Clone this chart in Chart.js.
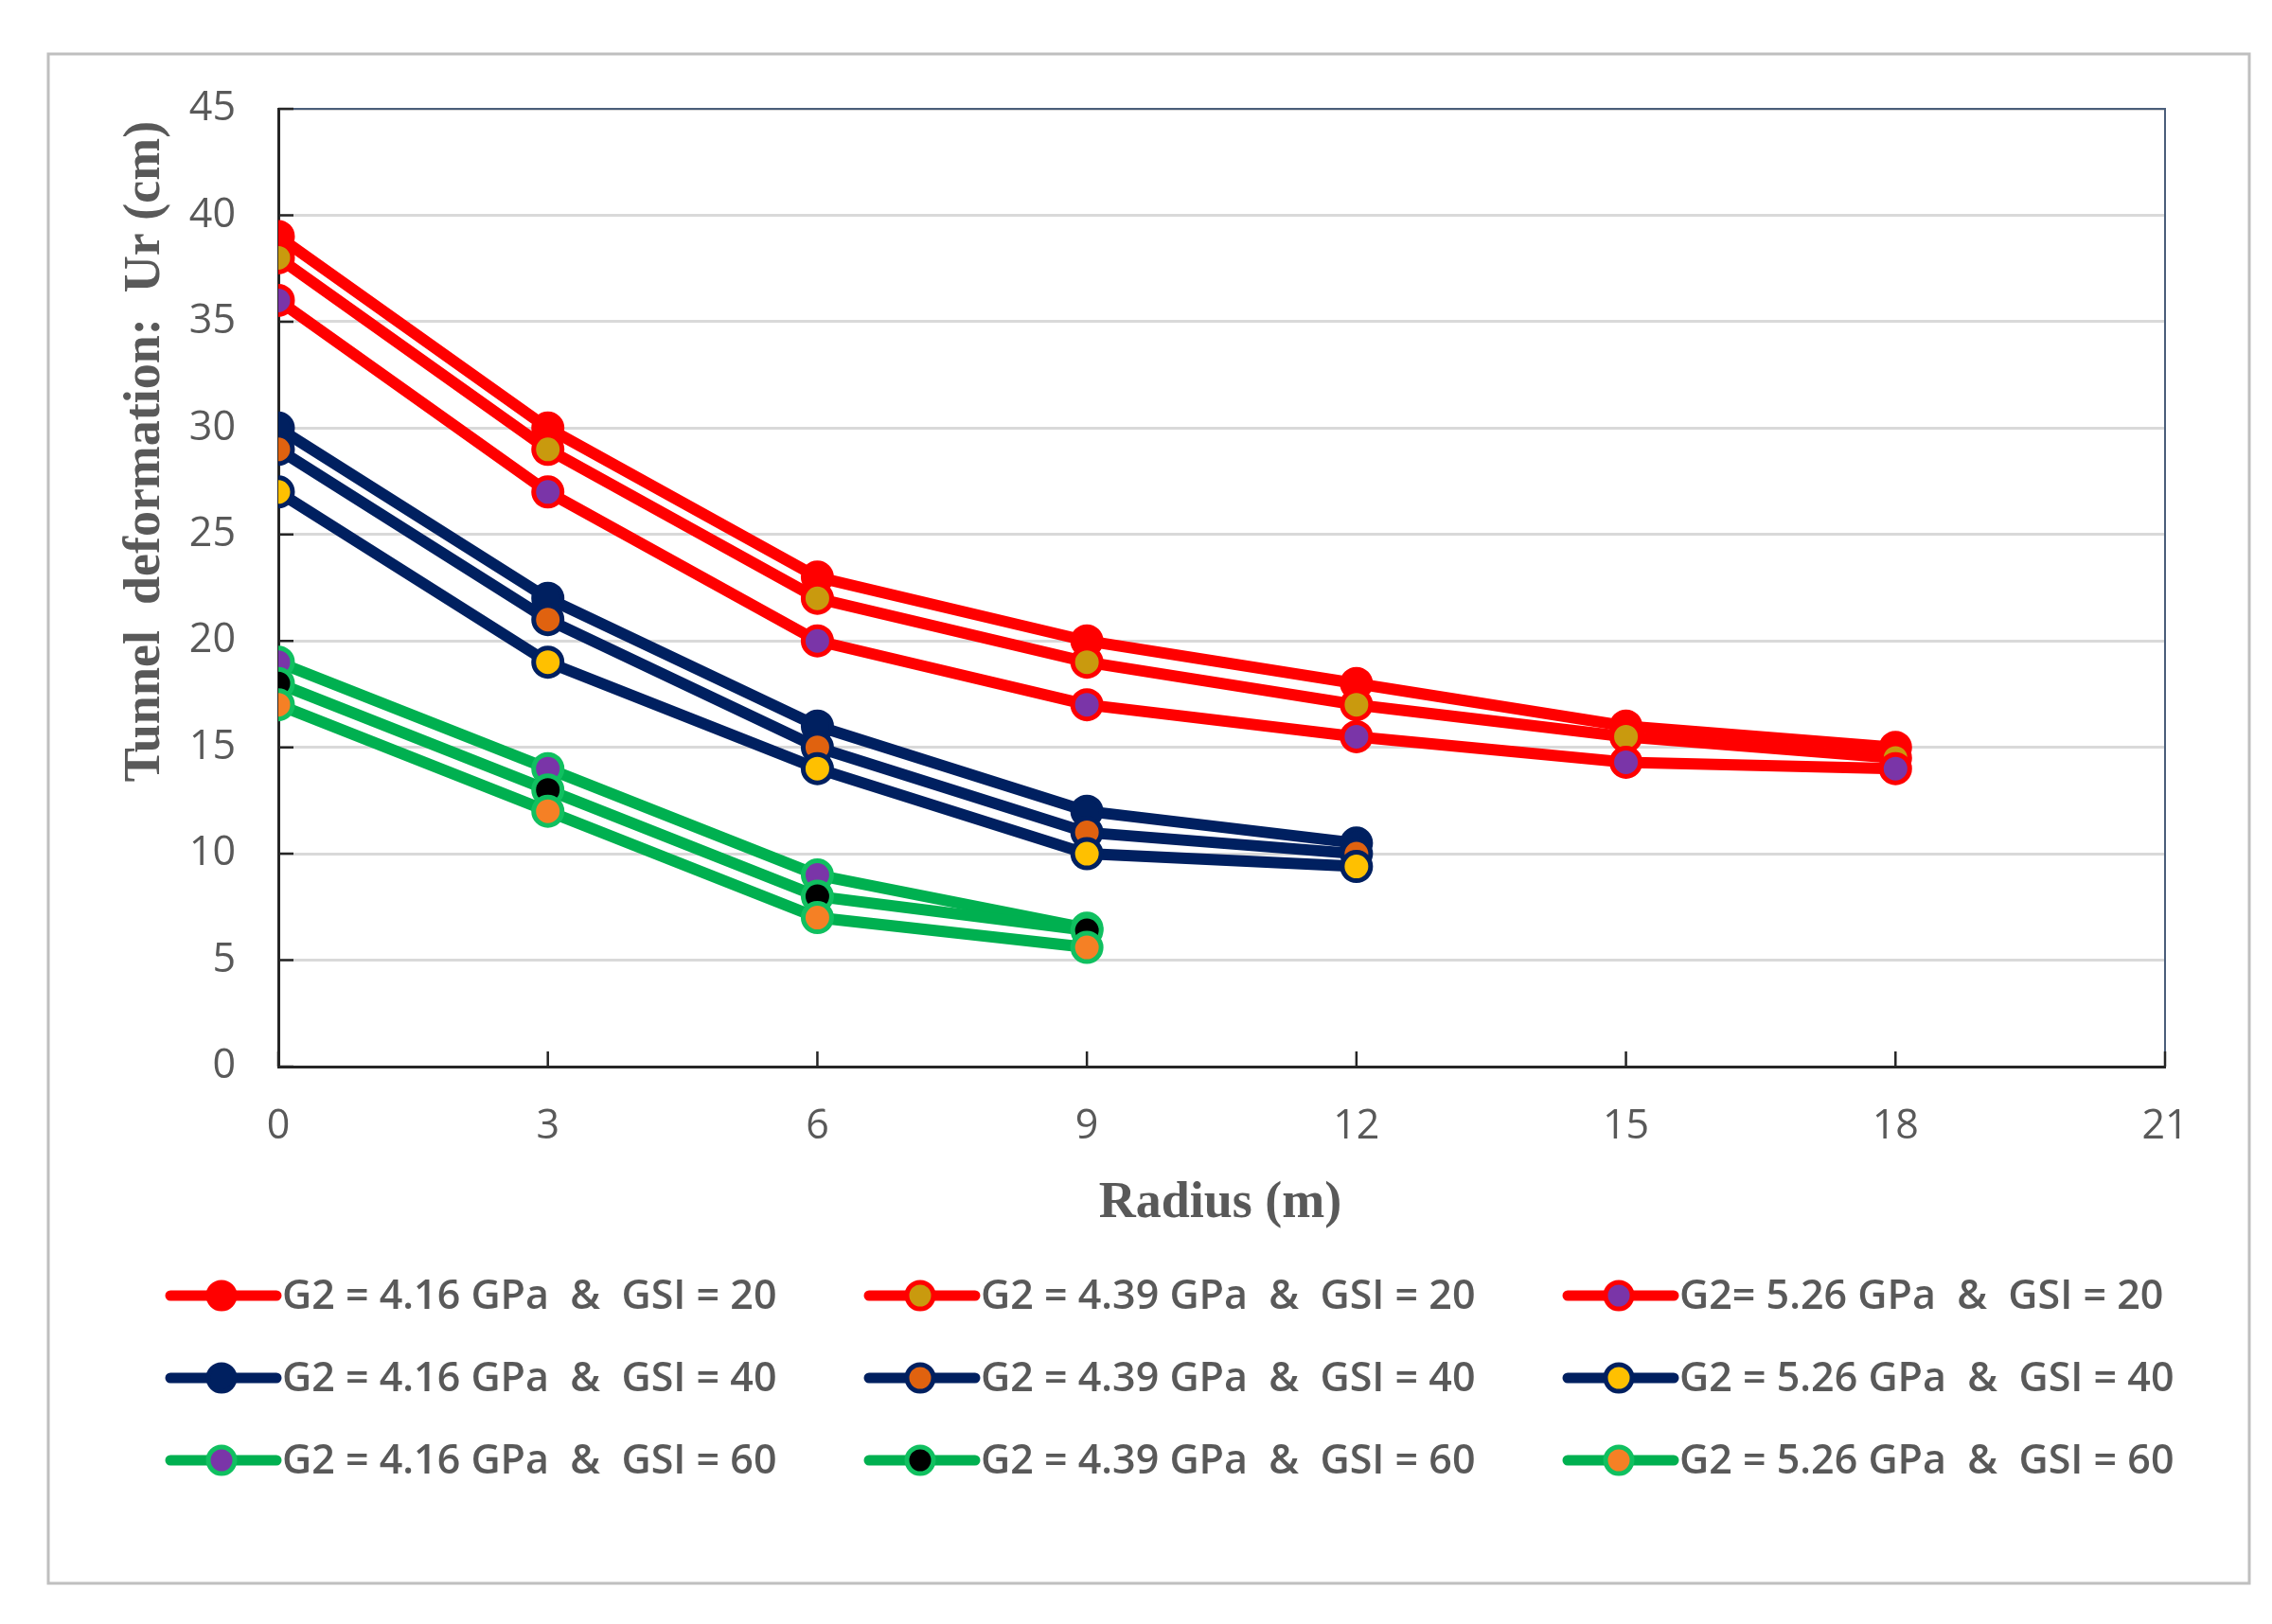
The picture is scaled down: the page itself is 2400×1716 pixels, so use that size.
<!DOCTYPE html>
<html>
<head>
<meta charset="utf-8">
<script src="https://cdn.jsdelivr.net/npm/chart.js@4.4.1/dist/chart.umd.min.js"></script>
<style>
  body { margin: 0; background: #fff; }
  #mycanvas { display: block; }
</style>
</head>
<body>
<canvas id="mycanvas" width="2400" height="1716"></canvas>
<script>
// radius (m) along the x axis
var radius = [0, 3, 6, 9, 12, 15, 18];
var xTicks = [0, 3, 6, 9, 12, 15, 18, 21];
var yTicks = [0, 5, 10, 15, 20, 25, 30, 35, 40, 45];

// tunnel deformation Ur (cm)
var gsi20_416 = [39, 30, 23, 20, 18, 16, 15];
var gsi20_439 = [38, 29, 22, 19, 17, 15.5, 14.5];
var gsi20_526 = [36, 27, 20, 17, 15.5, 14.3, 14];
var gsi40_416 = [30, 22, 16, 12, 10.5];
var gsi40_439 = [29, 21, 15, 11, 10];
var gsi40_526 = [27, 19, 14, 10, 9.4];
var gsi60_416 = [19, 14, 9, 6.5];
var gsi60_439 = [18, 13, 8, 6.4];
var gsi60_526 = [17, 12, 7, 5.6];

var labels = [
	"G2 = 4.16 GPa  &  GSI = 20", "G2 = 4.39 GPa  &  GSI = 20", "G2= 5.26 GPa  &  GSI = 20",
	"G2 = 4.16 GPa  &  GSI = 40", "G2 = 4.39 GPa  &  GSI = 40", "G2 = 5.26 GPa  &  GSI = 40",
	"G2 = 4.16 GPa  &  GSI = 60", "G2 = 4.39 GPa  &  GSI = 60", "G2 = 5.26 GPa  &  GSI = 60"
];

var RED = "#FF0000", NAVY = "#002060", GREEN = "#00B050";

function pts(values) {
	var out = [];
	for (var i in values) {
		out.push({x: radius[i], y: values[i]});
	}
	return out;
}

function series(label, values, line, fill, edge) {
	return {
		label: label,
		data: pts(values),
		fill: false,
		tension: 0,
		borderColor: line,
		borderWidth: 12,
		pointRadius: 15,
		pointBorderWidth: 5,
		pointBackgroundColor: fill,
		pointBorderColor: edge,
		pointHoverRadius: 15
	};
}

var datasets = [
	series(labels[0], gsi20_416, RED, RED, RED),
	series(labels[1], gsi20_439, RED, "#C99A0E", RED),
	series(labels[2], gsi20_526, RED, "#7A35A8", RED),
	series(labels[3], gsi40_416, NAVY, NAVY, NAVY),
	series(labels[4], gsi40_439, NAVY, "#E0620F", NAVY),
	series(labels[5], gsi40_526, NAVY, "#FFC000", NAVY),
	series(labels[6], gsi60_416, GREEN, "#7A35A8", "#10C060"),
	series(labels[7], gsi60_439, GREEN, "#000000", "#10C060"),
	series(labels[8], gsi60_526, GREEN, "#F58025", "#10C060")
];
// later series drawn on top, like the spreadsheet
datasets.forEach(function(ds, i) { ds.order = datasets.length - 1 - i; });

var AREA = {left: 294, right: 2287, top: 115, bottom: 1127};

var overlay = {
	id: "overlay",
	beforeDraw: function(chart) {
		var c = chart.ctx;
		c.save();
		c.fillStyle = "#fff";
		c.fillRect(0, 0, chart.width, chart.height);
		c.restore();
	},
	beforeDatasetsDraw: function(chart) {
		var c = chart.ctx, a = chart.chartArea;
		var xs = chart.scales.x, ys = chart.scales.y;
		c.save();
		// top & right frame
		c.strokeStyle = "#4A5E7A";
		c.lineWidth = 2;
		c.beginPath();
		c.moveTo(a.left, a.top);
		c.lineTo(a.right, a.top);
		c.lineTo(a.right, a.bottom);
		c.stroke();
		// inward tick marks
		c.strokeStyle = "#262626";
		c.lineWidth = 2.5;
		c.beginPath();
		xTicks.forEach(function(v) {
			var px = xs.getPixelForValue(v);
			c.moveTo(px, a.bottom);
			c.lineTo(px, a.bottom - 16);
		});
		yTicks.forEach(function(v) {
			var py = ys.getPixelForValue(v);
			c.moveTo(a.left, py);
			c.lineTo(a.left + 16, py);
		});
		c.stroke();
		c.restore();
	},
	afterDraw: function(chart) {
		var c = chart.ctx;
		c.save();
		// outer frame
		c.strokeStyle = "#BFBFBF";
		c.lineWidth = 3;
		c.strokeRect(51, 57, 2325, 1616);

		// axis titles
		c.fillStyle = "#595959";
		c.font = "bold 54px 'Liberation Serif'";
		c.textAlign = "center";
		c.textBaseline = "middle";
		c.fillText("Radius (m)", 1289, 1272);
		c.translate(154, 477);
		c.rotate(-Math.PI / 2);
		c.fillText("Tunnel  deformation:  Ur (cm)", 0, 0);
		c.setTransform(1, 0, 0, 1, 0, 0);

		// legend grid, 3 x 3
		var cols = [180, 918, 1656];
		var rows = [1369, 1456, 1543];
		c.font = "600 43px 'Open Sans'";
		c.textAlign = "left";
		chart.data.datasets.forEach(function(ds, i) {
			var x0 = cols[i % 3], y = rows[Math.floor(i / 3)];
			c.strokeStyle = ds.borderColor;
			c.lineWidth = 11;
			c.lineCap = "round";
			c.beginPath();
			c.moveTo(x0, y);
			c.lineTo(x0 + 112, y);
			c.stroke();
			c.beginPath();
			c.arc(x0 + 54, y, 14, 0, Math.PI * 2);
			c.fillStyle = ds.pointBackgroundColor;
			c.fill();
			c.lineWidth = 5;
			c.strokeStyle = ds.pointBorderColor;
			c.stroke();
			c.fillStyle = "#595959";
			c.fillText(ds.label, x0 + 118, y + 2);
		});
		c.restore();
	}
};

var ctx = document.getElementById("mycanvas");

var lineGraph = new Chart(ctx, {
	type: "line",
	data: { datasets: datasets },
	options: {
		responsive: false,
		animation: false,
		devicePixelRatio: 1,
		layout: {
			padding: {left: 0, right: 2400 - AREA.right, top: AREA.top, bottom: 300}
		},
		plugins: {
			legend: { display: false },
			tooltip: { enabled: false }
		},
		scales: {
			x: {
				type: "linear",
				min: 0,
				max: 21,
				afterBuildTicks: function(axis) {
					axis.ticks = xTicks.map(function(v) { return {value: v}; });
				},
				afterFit: function(axis) { axis.height = 1716 - 300 - AREA.bottom; },
				grid: { display: false, drawTicks: false },
				border: { display: true, color: "#262626", width: 3 },
				ticks: {
					color: "#595959",
					font: { family: "'Open Sans'", size: 43 },
					padding: 38,
					maxRotation: 0
				}
			},
			y: {
				min: 0,
				max: 45,
				afterBuildTicks: function(axis) {
					axis.ticks = yTicks.map(function(v) { return {value: v}; });
				},
				afterFit: function(axis) { axis.width = AREA.left; },
				grid: { color: "#D9D9D9", lineWidth: 3, drawTicks: false },
				border: { display: true, color: "#262626", width: 3 },
				ticks: {
					color: "#595959",
					font: { family: "'Open Sans'", size: 43 },
					padding: 45
				}
			}
		}
	},
	plugins: [overlay]
});
</script>
</body>
</html>
